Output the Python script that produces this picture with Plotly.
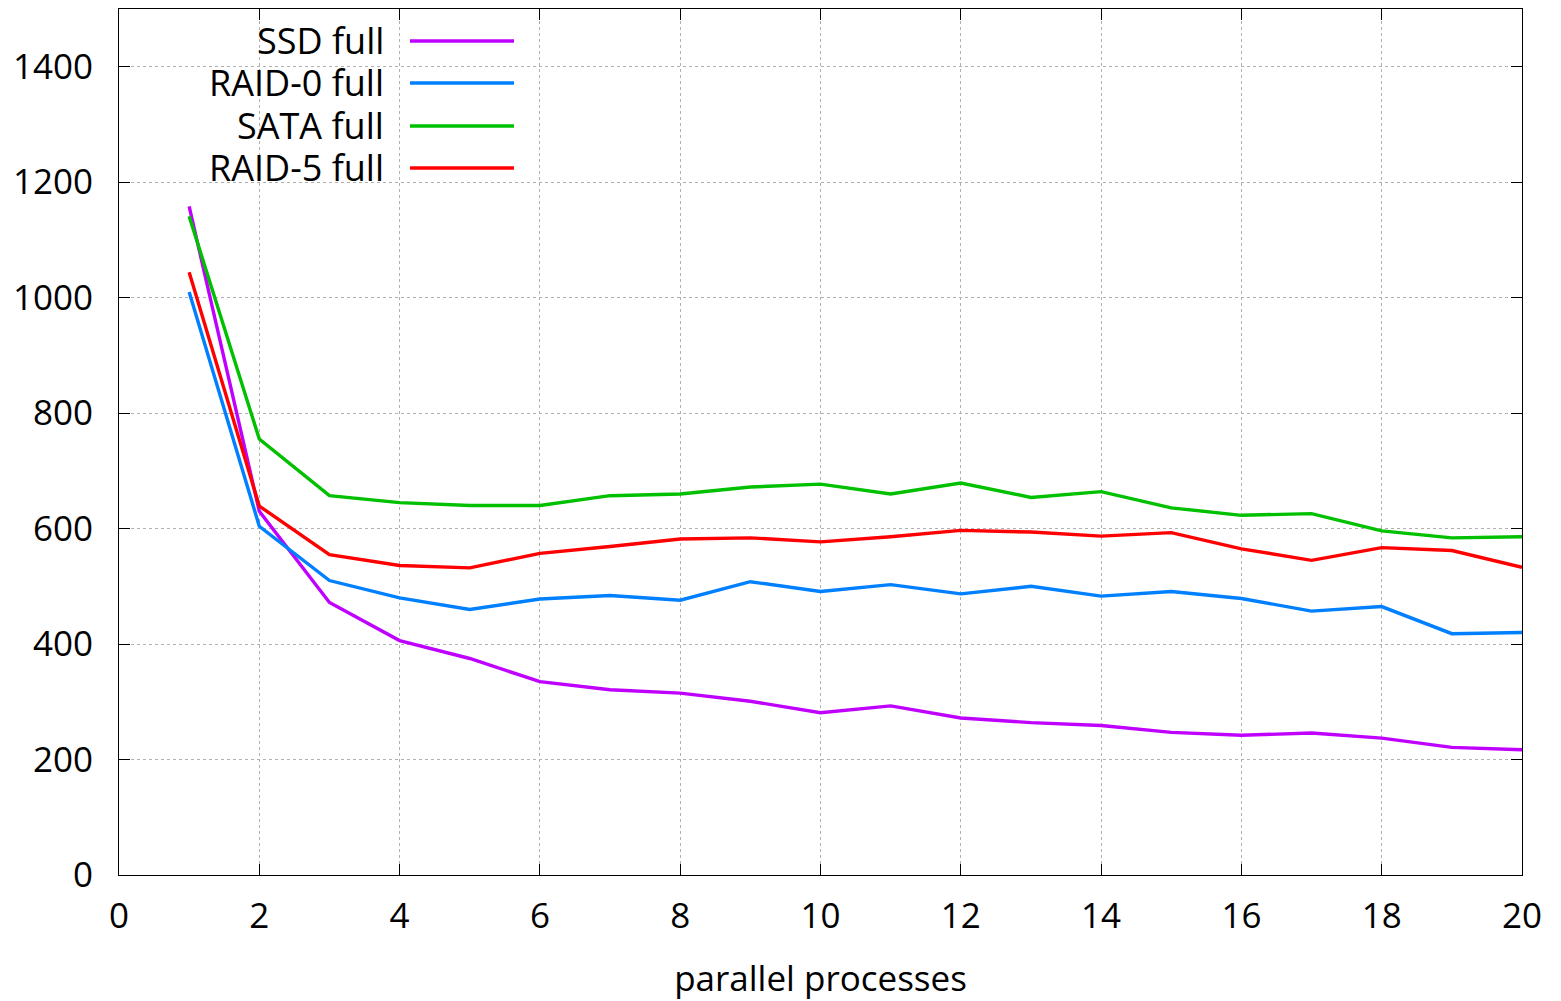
import plotly.graph_objects as go

processes = list(range(1, 21))
ssd_full = [1158, 630, 472, 406, 375, 335, 321, 315, 301, 281, 293, 272, 264, 259, 247, 242, 246, 237, 221, 217]
raid0_full = [1010, 604, 510, 480, 460, 478, 484, 476, 508, 491, 503, 487, 500, 483, 491, 479, 457, 465, 418, 420]
sata_full = [1141, 755, 657, 645, 640, 640, 657, 660, 672, 677, 660, 679, 654, 664, 636, 623, 626, 596, 584, 586]
raid5_full = [1044, 639, 555, 536, 532, 557, 569, 582, 584, 577, 586, 597, 594, 587, 593, 565, 545, 567, 562, 533]

series = [
    ("SSD full", ssd_full, "#c000ff"),
    ("RAID-0 full", raid0_full, "#0080ff"),
    ("SATA full", sata_full, "#00c000"),
    ("RAID-5 full", raid5_full, "#ff0000"),
]

x_ticks = list(range(0, 21, 2))
y_ticks = list(range(0, 1401, 200))

FONT = "Open Sans"
FS = 35

fig = go.Figure()
for name, vals, color in series:
    fig.add_trace(go.Scatter(x=processes, y=vals, mode="lines", name=name,
                             line=dict(color=color, width=3.4), showlegend=False))

# page body has an 8px margin, so the figure is offset by 8px
OFF = 8
W, H = 1561 - OFF, 1001 - OFF
ml, mr, mt, mb = 119 - OFF, 39, 9 - OFF, 126
pw, ph = W - ml - mr, H - mt - mb

def px(xs):
    return (xs - OFF - ml) / pw

def py(ys):
    return (H - mb - (ys - OFF)) / ph

row_y = [40, 82, 125, 167]
for (name, vals, color), yy in zip(series, row_y):
    fig.add_annotation(x=px(386), y=py(yy), xref="paper", yref="paper", text=name,
                       showarrow=False, xanchor="right", yanchor="middle",
                       height=40, valign="middle",
                       font=dict(family=FONT, size=FS + 1, color="black"))
    fig.add_shape(type="line", xref="paper", yref="paper",
                  x0=px(410), x1=px(514), y0=py(yy + 1), y1=py(yy + 1),
                  line=dict(color=color, width=3.4))

axis_common = dict(
    showline=True, linecolor="black", linewidth=1, mirror="allticks",
    ticks="inside", ticklen=11, tickcolor="black", tickwidth=1,
    showgrid=True, gridcolor="#b0b0b0", gridwidth=1, griddash="dot",
    zeroline=False, tickfont=dict(family=FONT, size=FS, color="black"),
)

fig.update_xaxes(range=[0, 20], tickvals=x_ticks, ticklabelstandoff=10,
                 title=dict(text="parallel processes", font=dict(family=FONT, size=FS, color="black"), standoff=30),
                 **axis_common)
fig.update_yaxes(range=[0, 1500], tickvals=y_ticks, ticklabelstandoff=18, **axis_common)

fig.update_layout(
    width=W, height=H, plot_bgcolor="white", paper_bgcolor="white",
    margin=dict(l=ml, r=mr, t=mt, b=mb),
    font=dict(family=FONT, size=FS, color="black"),
)

fig.write_html("out.html")
